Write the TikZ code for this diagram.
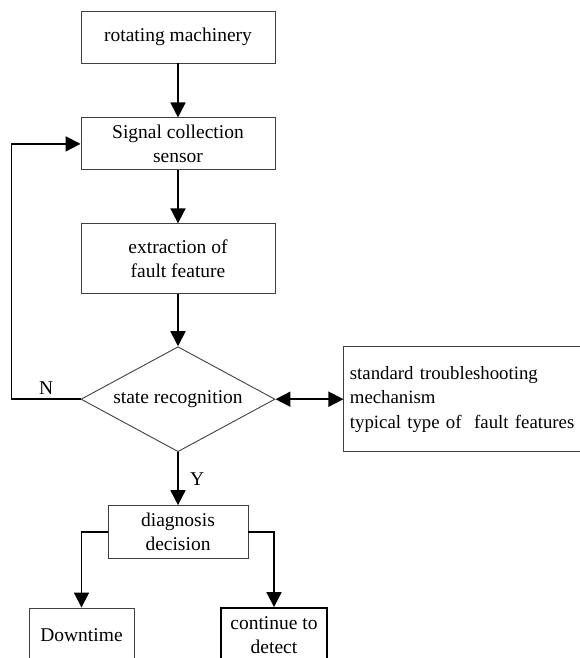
\documentclass[tikz,border=0pt]{standalone}
\usepackage{fontspec}
\setmainfont{Liberation Serif}
\usetikzlibrary{arrows.meta,positioning,shapes.geometric}

\begin{document}
\begin{tikzpicture}[x=1pt,y=-1pt,>={Triangle[length=15pt,width=15pt]},node distance=53pt,
    font=\fontsize{19.5}{24}\selectfont,
    box/.style={draw=black!75,line width=0.9pt,minimum width=194pt,minimum height=52pt,align=center,inner sep=2pt},
    decide/.style={diamond,aspect=1.85,draw=black!75,line width=0.9pt,minimum width=194pt,minimum height=105pt,inner sep=0pt},
    flow/.style={->,line width=1.8pt}]

            \useasboundingbox (0,0) rectangle (579,658);

            \node[box] (mach) at (178,37) {rotating machinery};

            \node[box] (sig) [below=54pt of mach] {Signal collection\\sensor};

            \node[box,minimum height=70pt] (feat) [below=of sig] {extraction of\\fault feature};

            \node[decide] (state) [below=52pt of feat] {state recognition};

            \node[box,align=left,text width=250pt,minimum height=105pt,inner sep=6pt,font=\fontsize{18.8}{24.5}\selectfont] (know) [right=68pt of state]
                {standard troubleshooting\\mechanism\\typical type of\ \ fault features};

            \node[box,minimum width=140pt,minimum height=53pt] (diag) [below=of state] {diagnosis\\decision};

            \node[box,minimum width=105pt,minimum height=54pt] (down) at (81.5,635) {Downtime};

            \node[box,minimum width=106pt,minimum height=54pt,draw=black,line width=1.8pt] (cont) at (274,635) {continue to\\detect};

            

            \draw[flow] (mach) -- (sig);
            \draw[flow] (sig) -- (feat);
            \draw[flow] (feat) -- (state);
            \draw[flow,<->] (state) -- (know);
            \draw[flow] (state) -- node[right=8pt] {Y} (diag);
            \draw[flow] (state.west) -- node[above] {N} ++(-69pt,0) |- (sig.west);
            \draw[flow] (diag.west) -| (down);
            \draw[flow] (diag.east) -| (cont);

        \end{tikzpicture}
\end{document}
